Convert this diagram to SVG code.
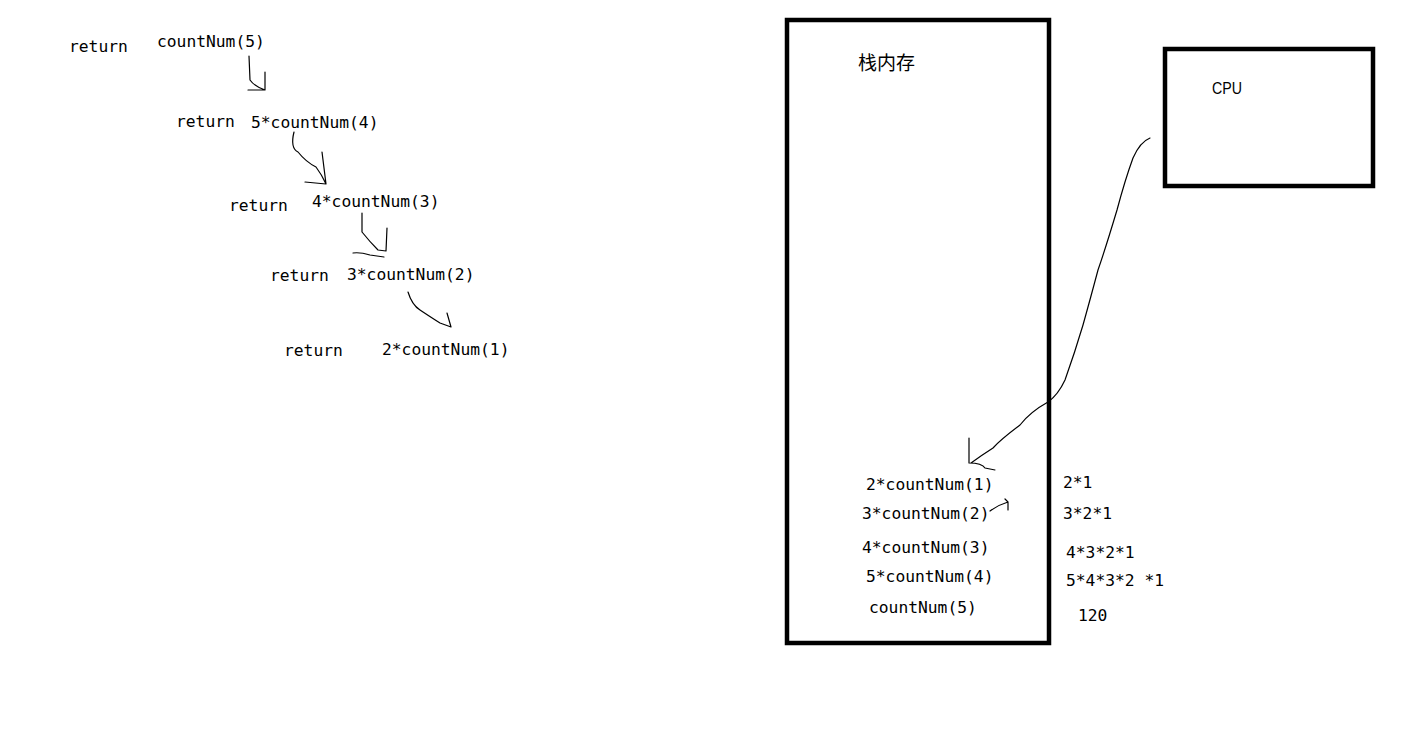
<svg xmlns="http://www.w3.org/2000/svg" width="1408" height="736" viewBox="0 0 1408 736">
<style>
.t{font-family:"DejaVu Sans Mono","Liberation Mono",monospace;font-size:16.3px;fill:#000}
.c{font-family:"Noto Sans CJK SC","Noto Sans CJK JP",sans-serif;font-size:19px;fill:#000}
.s{font-family:"Liberation Sans",Arial,sans-serif;font-size:16.5px;fill:#000}
.box{fill:none;stroke:#000;stroke-width:4.5}
.ln{fill:none;stroke:#000;stroke-width:1.2;stroke-linecap:round;stroke-linejoin:round}
</style>
<rect width="1408" height="736" fill="#fff"/>
<g id="left-recursion">
<text class="t" x="69" y="52">return</text>
<text class="t" x="157" y="47">countNum(5)</text>
<text class="t" x="176" y="127">return</text>
<text class="t" x="251" y="128">5*countNum(4)</text>
<text class="t" x="229" y="211">return</text>
<text class="t" x="312" y="207">4*countNum(3)</text>
<text class="t" x="270" y="281">return</text>
<text class="t" x="347" y="280">3*countNum(2)</text>
<text class="t" x="284" y="356">return</text>
<text class="t" x="382" y="355">2*countNum(1)</text>
</g>
<g id="stack-memory">
<rect class="box" x="787" y="20" width="262" height="623"/>
<text class="c" x="858" y="70">栈内存</text>
<text class="t" x="866" y="490">2*countNum(1)</text>
<text class="t" x="862" y="519">3*countNum(2)</text>
<text class="t" x="862" y="553">4*countNum(3)</text>
<text class="t" x="866" y="582">5*countNum(4)</text>
<text class="t" x="869" y="613">countNum(5)</text>
</g>
<g id="cpu">
<rect class="box" x="1165" y="49" width="208" height="137"/>
<text class="s" x="1212" y="94" textLength="30" lengthAdjust="spacingAndGlyphs">CPU</text>
</g>
<g id="results">
<text class="t" x="1063" y="488">2*1</text>
<text class="t" x="1063" y="519">3*2*1</text>
<text class="t" x="1066" y="558">4*3*2*1</text>
<text class="t" x="1066" y="586">5*4*3*2 *1</text>
<text class="t" x="1078" y="621">120</text>
</g>
<g id="connectors">
<path class="ln" d="M249 56 L250 80 Q254 86 265 90 M265 72 L265 90 M248 90 L265 90"/>
<path class="ln" d="M294 132 Q290 148 298 152 Q306 162 316 167 Q322 175 326 184 M322 152 L326 184 M305 182 L326 184"/>
<path class="ln" d="M362 213 L362 232 Q370 242 378 250 L386 251 M387 228 L386 251 M353 253 Q360 252 370 255 L384 257"/>
<path class="ln" d="M408 292 Q412 305 420 310 Q432 318 440 323 L451 327 M447 313 L451 327"/>
<path class="ln" d="M1150 138 Q1140 142 1133 158 Q1125 180 1117 210 Q1105 250 1098 270 Q1090 300 1083 325 Q1075 352 1065 380 Q1058 395 1048 402 Q1030 412 1020 425 Q1000 440 993 448 Q982 455 971 463 M969 438 L969 463 M969 463 Q982 463 985 468 L995 470"/>
<path class="ln" d="M990 511 Q998 505 1008 502 M1005 499 L1008 502 L1008 510"/>
</g>
</svg>
